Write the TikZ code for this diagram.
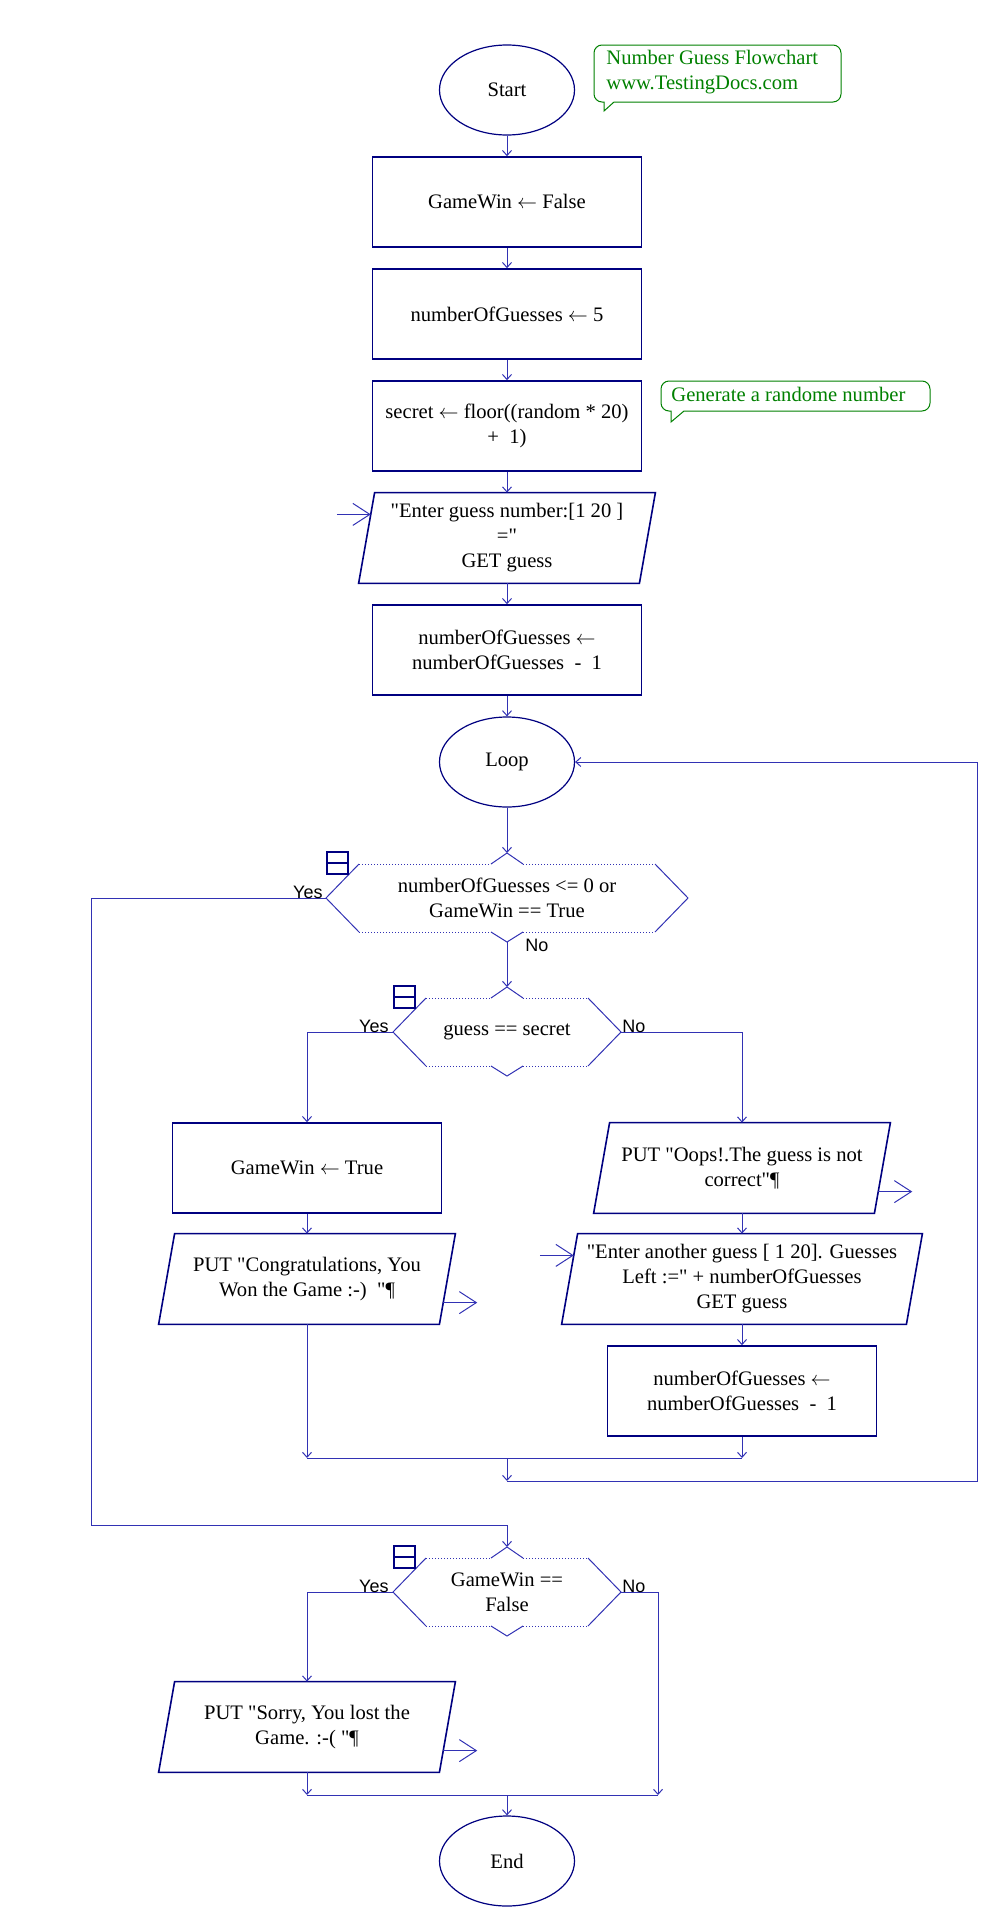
\documentclass[tikz,border=0pt]{standalone}
\usepackage{fontspec}
\setmainfont{Liberation Serif}[Ligatures=TeXOff]
\newfontfamily\labelfont{Liberation Sans}
\usetikzlibrary{shapes.geometric,arrows.meta,calc}

\definecolor{navy}{RGB}{0,0,128}
\definecolor{flowblue}{RGB}{50,50,180}
\definecolor{notegreen}{RGB}{0,128,0}

\newcommand{\boxfont}{\fontsize{10.3}{12.5}\selectfont}
\newcommand{\getsarrow}{$\leftarrow$}

\tikzset{
    proc/.style={draw=navy, line width=0.8pt, minimum width=134.5pt, minimum height=45pt,
        inner sep=2pt, align=center, font=\boxfont},
    term/.style={ellipse, draw=navy, line width=0.6pt, minimum width=67.5pt, minimum height=45pt,
        inner sep=0pt, font=\boxfont},
    iotext/.style={minimum height=45pt, inner sep=0pt, align=center, font=\boxfont},
    dectext/.style={inner sep=0pt, align=center, font=\boxfont},
    boxline/.style={draw=navy, line width=0.8pt},
    hexside/.style={draw=flowblue, line width=0.5pt},
    hexdots/.style={draw=flowblue, line width=0.5pt, dash pattern=on 0.5pt off 1pt},
    flow/.style={draw=flowblue, line width=0.5pt, -{Straight Barb[length=2.5pt,width=4.5pt]}},
    link/.style={draw=flowblue, line width=0.5pt},
    stub/.style={draw=flowblue, line width=0.5pt, -{Straight Barb[length=8.5pt,width=11pt]}},
    branch/.style={font=\labelfont\fontsize{9}{10}\selectfont, inner sep=0pt},
    notebox/.style={draw=notegreen, line width=0.5pt},
    notetext/.style={text=notegreen, font=\boxfont, align=left, inner sep=0pt},
}

% hexagon round a decision node: #1 node, #2 half width
\newcommand{\decframe}[2]{%
    \begin{scope}[shift={(#1.center)}]
        \draw[hexside] (-#2+33,-34) -- (-#2,0) -- (-#2+33,34);
        \draw[hexside] (#2-33,-34) -- (#2,0) -- (#2-33,34);
        \draw[hexdots] (-#2+33,-34) -- (-16,-34);
        \draw[hexdots] (16,-34) -- (#2-33,-34);
        \draw[hexdots] (-#2+33,34) -- (-16,34);
        \draw[hexdots] (16,34) -- (#2-33,34);
        \draw[hexside] (-16,-34) -- (0,-45) -- (16,-34);
        \draw[hexside] (-16,34) -- (0,44) -- (16,34);
        \draw[boxline] (-#2+1,-46) rectangle (-#2+22,-24);
        \draw[boxline] (-#2+1,-35) -- (-#2+22,-35);
        \coordinate (#1-w) at (-#2,0);
        \coordinate (#1-e) at (#2,0);
        \coordinate (#1-n) at (0,-45);
        \coordinate (#1-s) at (0,44);
    \end{scope}}

% slanted frame round an input/output node
\newcommand{\ioframe}[1]{%
    \draw[boxline] ([xshift=4pt]#1.north west) -- ([xshift=4pt]#1.north east)
        -- ([xshift=-4pt]#1.south east) -- ([xshift=-4pt]#1.south west) -- cycle;
    \coordinate (#1-in) at ($(#1.north west)!0.24!(#1.south west)+(2.08pt,0)$);
    \coordinate (#1-src) at ($(#1-in)+(-34,0)$);
    \coordinate (#1-out) at ($(#1.north east)!0.76!(#1.south east)+(-2.08pt,0)$);
    \coordinate (#1-sink) at ($(#1-out)+(34,0)$);}

\begin{document}
\begin{tikzpicture}[x=0.5pt,y=-0.5pt]
    \useasboundingbox (0,0) rectangle (993,1922);

    \node[term] (start) at (507,90) {Start};
    \node[proc] (init) at (507,202) {GameWin \getsarrow{} False};
    \node[proc] (tries) at (507,314) {numberOfGuesses \getsarrow{} 5};
    \node[proc] (secret) at (507,426) {secret \getsarrow{} floor((random * 20)\\+\ \ 1)};
    \node[iotext, minimum width=140pt] (ask) at (507,538) {"Enter guess number:[1 20 ]\\="\\GET guess};
    \ioframe{ask}
    \node[proc] (dec1) at (507,650) {numberOfGuesses \getsarrow\\numberOfGuesses\ \ -\ \ 1};
    \node[term] (loop) at (507,762) {Loop};

    \node[dectext] (chk) at (507,898) {numberOfGuesses <= 0 or\\GameWin == True};
    \decframe{chk}{181}
    \node[dectext] (hit) at (507,1032) {guess == secret};
    \decframe{hit}{114}

    \node[proc] (win) at (307,1168) {GameWin \getsarrow{} True};
    \node[iotext, minimum width=140pt] (congrats) at (307,1279) {PUT "Congratulations, You\\Won the Game :-)\ \ "¶};
    \ioframe{congrats}
    \node[iotext, minimum width=140pt] (oops) at (742,1168) {PUT "Oops!.The guess is not\\correct"¶};
    \ioframe{oops}
    \node[iotext, minimum width=172pt] (again) at (742,1279) {"Enter another guess [ 1 20]. Guesses\\Left :=" + numberOfGuesses\\GET guess};
    \ioframe{again}
    \node[proc] (dec2) at (742,1391) {numberOfGuesses \getsarrow\\numberOfGuesses\ \ -\ \ 1};

    \node[dectext] (lost) at (507,1592) {GameWin ==\\False};
    \decframe{lost}{114}
    \node[iotext, minimum width=140pt] (sorry) at (307,1727) {PUT "Sorry, You lost the\\Game. :-( "¶};
    \ioframe{sorry}
    \node[term] (finish) at (507,1861) {End};

    % notes
    \node[notetext, anchor=north west] (title) at (606,50) {Number Guess Flowchart\\www.TestingDocs.com};
    \draw[notebox] (604,111) -- (614,102) [rounded corners=4pt] -- (841,102) -- (841,45) -- (594,45)
        -- (594,102) [sharp corners] -- (604,102) -- cycle;
    \node[notetext, anchor=west] (hint) at (671,394) {Generate a randome number};
    \draw[notebox] (671,422) -- (684,411) [rounded corners=4pt] -- (930,411) -- (930,381) -- (661,381)
        -- (661,411) [sharp corners] -- (671,411) -- cycle;

    \coordinate (lostjoin) at (91,1525);
    \coordinate (join1) at (507,1458);
    \coordinate (join2) at (507,1481);
    \coordinate (loopback) at (977,1481);
    \coordinate (join3) at (507,1795);
    \coordinate (nojoin) at (658,1795);

    \draw[flow] (start) -- (init);
    \draw[flow] (init) -- (tries);
    \draw[flow] (tries) -- (secret);
    \draw[flow] (secret) -- (ask);
    \draw[stub] (ask-src) -- (ask-in);
    \draw[flow] (ask) -- (dec1);
    \draw[flow] (dec1) -- (loop);
    \draw[flow] (loop) -- (chk-n);
    \draw[flow] (chk-s) -- (hit-n);
    \draw[flow] (chk-w) -| (lostjoin) -| (lost-n);

    \draw[flow] (hit-w) -| (win);
    \draw[flow] (win) -- (congrats);
    \draw[stub] (congrats-out) -- (congrats-sink);
    \draw[flow] (hit-e) -| (oops);
    \draw[stub] (oops-out) -- (oops-sink);
    \draw[flow] (oops) -- (again);
    \draw[stub] (again-src) -- (again-in);
    \draw[flow] (again) -- (dec2);

    \draw[flow] (congrats) -- (congrats |- join1);
    \draw[flow] (dec2) -- (dec2 |- join1);
    \draw[link] (congrats |- join1) -- (dec2 |- join1);
    \draw[flow] (join1) -- (join2);
    \draw[flow] (join2) -- (loopback) |- (loop);

    \draw[flow] (lost-w) -| (sorry);
    \draw[stub] (sorry-out) -- (sorry-sink);
    \draw[flow] (lost-e) -| (nojoin);
    \draw[flow] (sorry) -- (sorry |- join3);
    \draw[link] (sorry |- join3) -- (nojoin);
    \draw[flow] (join3) -- (finish);

    \node[branch, anchor=base east] (yes1) at ([xshift=-1.5pt]chk-w) {Yes};
    \node[branch, anchor=north west] (no1) at ([xshift=9pt,yshift=1.5pt]chk-s) {No};
    \node[branch, anchor=base east] (yes2) at ([xshift=-2pt]hit-w) {Yes};
    \node[branch, anchor=base west] (no2) at ([xshift=0.5pt]hit-e) {No};
    \node[branch, anchor=base east] (yes3) at ([xshift=-2pt]lost-w) {Yes};
    \node[branch, anchor=base west] (no3) at ([xshift=0.5pt]lost-e) {No};
\end{tikzpicture}
\end{document}
